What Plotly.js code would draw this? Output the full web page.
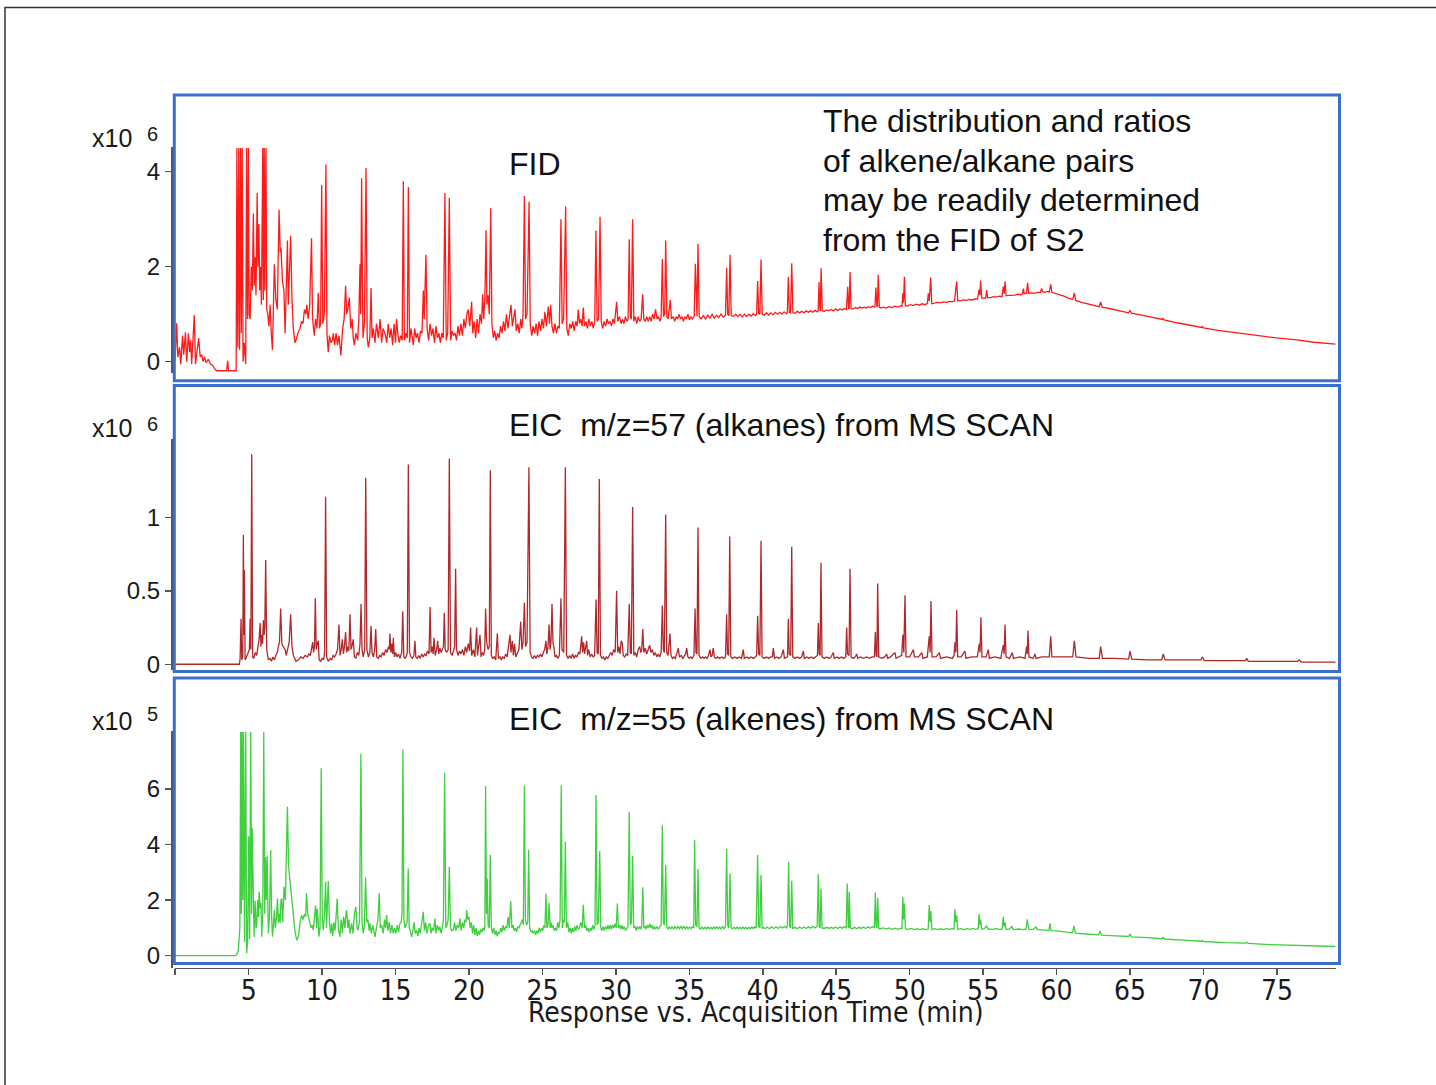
<!DOCTYPE html>
<html>
<head>
<meta charset="utf-8">
<script src="https://cdn.plot.ly/plotly-3.0.1.min.js"></script>
<style>
html,body{margin:0;padding:0;background:#ffffff;}
#chart{width:1436px;height:1085px;}
</style>
</head>
<body>
<div id="chart"></div>
<script>
// ---------- DATA (time in min, response in units of the axis multiplier) ----------
// FID trace, response x10^6
const fidSignal = [
[0.0,0.05],[0.1,0.81],[0.18,0.1],[0.3,0.3],[0.38,-0.05],[0.5,0.55],[0.58,0.15],[0.7,0.62],[0.78,0.0],[0.9,0.6],[0.98,0.2],[1.05,0.45],[1.12,-0.05],[1.2,0.35],[1.3,0.98],[1.38,-0.05],[1.5,0.25],[1.6,0.5],[1.7,0.1],[1.8,0.15],[1.9,0.0],[2.0,0.1],[2.1,-0.02],[2.25,0.05],[2.4,-0.05],[2.55,-0.08],[2.7,-0.15],[2.82,-0.19],[3.5,-0.19],[3.57,0.02],[3.63,-0.19],[4.15,-0.19],
[4.2,4.5],[4.26,0.3],[4.33,4.5],[4.38,0.25],[4.45,4.5],[4.5,0.6],[4.56,4.5],[4.62,0.0],[4.7,0.4],[4.8,-0.05],[4.86,4.5],[4.92,0.9],[4.98,4.5],[5.03,1.0],[5.1,0.9],[5.18,2.0],[5.25,1.5],[5.32,3.12],[5.38,1.6],[5.45,2.2],[5.5,1.4],[5.58,3.55],[5.63,2.0],[5.7,2.9],[5.75,1.5],[5.82,2.0],[5.87,1.2],[5.96,4.5],[6.0,1.3],[6.06,4.5],[6.1,1.5],[6.18,4.5],[6.23,1.1],[6.3,1.0],[6.38,0.75],[6.46,1.2],[6.54,0.6],[6.62,0.25],[6.75,2.05],[6.85,1.3],[6.95,1.1],[7.07,3.2],[7.15,2.3],[7.2,2.4],[7.3,1.7],[7.4,1.5],[7.48,0.6],[7.55,1.8],[7.64,2.55],[7.7,1.2],[7.8,2.0],[7.86,2.65],[7.95,1.3],[8.04,0.7],[8.15,0.4],[8.22,0.45],[8.35,0.6],[8.49,0.7],[8.6,0.85],[8.7,0.8],[8.8,1.1],[8.9,1.0],[8.96,1.2],[9.05,0.9],[9.15,1.15],[9.28,2.6],[9.35,0.9],[9.47,0.55],[9.55,0.9],[9.65,0.7],[9.74,1.45],[9.82,0.7],[9.9,0.8],[9.97,3.72],[10.05,0.8],[10.15,1.0],[10.26,4.15],[10.33,0.6],[10.42,0.2],
[10.5,0.55],[10.6,0.4],[10.7,0.45],[10.76,0.6],[10.85,0.35],[10.95,0.6],[11.05,0.35],[11.15,0.55],[11.28,0.13],[11.4,0.7],[11.5,0.9],[11.6,1.6],[11.68,1.0],[11.75,1.1],[11.85,1.35],[11.95,0.7],[12.05,0.9],[12.12,0.5],[12.2,0.35],[12.3,0.6],[12.42,0.45],[12.5,0.9],[12.58,2.05],[12.63,1.0],[12.69,3.86],[12.78,0.5],[12.88,0.8],[12.99,4.08],[13.07,0.5],[13.15,0.3],[13.25,0.5],[13.33,1.55],[13.4,0.5],[13.49,0.7],[13.6,0.4],[13.7,0.8],[13.83,0.5],[13.95,0.9],[14.05,0.4],[14.15,0.7],[14.28,0.6],[14.4,0.4],[14.5,0.8],[14.6,0.5],[14.7,0.7],[14.8,0.35],[14.9,0.8],[15.0,0.4],[15.07,0.9],[15.15,0.6],[15.25,0.4],[15.35,0.55],[15.45,0.45],[15.53,3.8],[15.6,0.45],[15.7,0.6],[15.8,0.5],[15.87,3.68],[15.95,0.4],[16.05,0.7],[16.15,0.5],[16.21,0.35],[16.3,0.7],[16.4,0.5],[16.5,0.6],[16.6,0.4],[16.7,0.65],[16.8,0.6],[16.89,1.5],[16.95,0.9],[17.07,2.25],[17.15,0.7],[17.25,0.45],[17.35,0.8],[17.45,0.55],[17.55,0.7],[17.65,0.4],[17.75,0.75],[17.85,0.5],[17.95,0.6],[18.05,0.4],[18.15,0.6],[18.25,0.5],[18.36,3.55],[18.45,0.45],[18.55,0.6],[18.66,3.45],[18.75,0.45],[18.85,0.65],[18.95,0.55],[19.05,0.6],[19.15,0.45],[19.25,0.75],[19.35,0.55],[19.45,0.8],[19.55,0.55],[19.65,0.9],[19.75,0.7],[19.85,1.0],[19.95,1.1],[20.05,0.75],
[20.18,1.26],[20.25,0.6],[20.35,0.85],[20.45,0.5],[20.55,0.9],[20.65,0.6],[20.75,1.0],[20.85,0.8],[20.93,1.42],[21.0,0.9],[21.08,1.3],[21.16,2.77],[21.22,1.2],[21.3,1.4],[21.38,1.0],[21.48,3.23],[21.56,0.8],[21.66,0.5],[21.75,0.65],[21.85,0.45],[21.95,0.6],[22.05,0.5],[22.15,0.75],[22.25,0.6],[22.35,0.85],[22.45,0.65],[22.55,1.0],[22.65,0.7],[22.75,0.95],[22.86,1.2],[22.95,0.75],[23.05,0.95],[23.13,1.1],[23.22,0.65],[23.32,0.8],[23.42,0.6],[23.52,0.9],[23.6,0.7],[23.68,1.0],[23.77,3.49],[23.85,0.9],[23.95,1.0],[24.09,3.37],[24.17,0.8],[24.27,0.55],[24.37,0.75],[24.47,0.6],[24.57,0.8],[24.67,0.55],[24.77,0.85],[24.87,0.65],[24.97,0.9],[25.07,0.7],[25.17,1.05],[25.27,0.75],[25.4,1.16],[25.48,0.8],[25.56,1.2],[25.65,0.75],[25.75,0.6],[25.85,0.8],[25.95,0.6],[26.05,0.75],[26.15,0.7],[26.26,3.0],[26.34,0.8],[26.44,0.9],[26.58,3.27],[26.66,0.7],[26.76,0.55],[26.86,0.8],[26.96,0.7],[27.06,0.85],[27.16,0.65],[27.26,0.85],[27.36,0.75],[27.44,1.1],[27.52,0.8],[27.6,0.9],[27.7,0.75],[27.78,1.14],[27.86,0.75],[27.96,0.85],[28.06,0.7],[28.16,0.9],[28.26,0.75],[28.36,0.85],[28.46,0.7],[28.56,0.85],[28.64,2.76],[28.72,0.85],[28.82,0.9],[28.92,3.05],[29.0,0.85],[29.1,0.7],[29.2,0.85],[29.3,0.75],[29.4,0.9],[29.5,0.8],[29.6,0.85],[29.7,0.75],[29.8,0.9],[29.9,0.8],[30.05,1.26],[30.13,0.85],[30.25,0.95],[30.35,0.8],[30.45,0.9],[30.55,0.8],[30.65,0.95],[30.75,0.85],[30.83,0.9],[30.91,2.58],[30.98,0.95],[31.05,0.9],[31.14,3.0],[31.22,0.85],[31.32,0.95],[31.42,0.8],[31.52,0.95],[31.62,0.85],[31.72,0.9],[31.82,1.42],[31.9,0.9],[32.0,0.85],[32.1,0.95],[32.2,0.85],[32.3,0.95],[32.4,0.85],[32.5,1.0],[32.6,0.9],[32.7,1.1],[32.8,0.9],[32.9,0.95],[33.0,0.85],[33.08,0.95],[33.16,2.16],[33.24,0.95],[33.32,1.0],[33.39,2.55],[33.47,0.95],[33.55,0.9],[33.7,1.3],[33.78,0.9],[33.9,0.95],[34.0,0.85],[34.1,0.95],[34.2,0.9],[34.3,1.0],[34.4,0.9],[34.5,0.95],[34.6,0.85],[34.7,0.95],[34.8,0.9],[34.9,1.0],[35.0,0.88],[35.1,0.95],[35.2,0.9],[35.33,0.95],[35.41,2.06],[35.48,1.0],[35.52,0.95],[35.59,2.48],[35.67,0.95],[35.8,0.9],[35.95,0.97],[36.1,0.9],[36.25,0.98],[36.4,0.92],[36.55,1.0],[36.7,0.92],[36.85,0.98],[37.0,0.93],[37.15,1.0],[37.3,0.94],[37.46,0.98],[37.54,1.98],[37.61,1.0],[37.69,0.97],[37.77,2.25],[37.85,0.97],[38.0,0.95],[38.15,1.0],[38.3,0.95],[38.45,1.0],[38.6,0.94],[38.75,1.0],[38.9,0.95],[39.05,1.0],[39.2,0.96],[39.35,1.01],[39.5,0.97],[39.58,1.0],[39.65,1.7],[39.72,1.02],[39.8,1.0],[39.88,2.15],[39.96,1.0],[40.1,0.98],[40.25,1.03],[40.4,0.98],[40.55,1.03],[40.7,0.99],[40.85,1.04],[41.0,1.0],[41.15,1.04],[41.3,1.0],[41.45,1.05],[41.6,1.01],[41.67,1.03],[41.74,1.79],[41.81,1.04],[41.89,1.03],[41.97,2.07],[42.05,1.03],[42.2,1.02],[42.35,1.06],[42.5,1.03],[42.65,1.06],[42.8,1.03],[42.95,1.07],[43.1,1.04],[43.25,1.07],[43.4,1.04],[43.55,1.08],[43.7,1.05],[43.77,1.07],[43.83,1.68],[43.89,1.08],[43.92,1.07],[43.97,1.97],[44.05,1.07],[44.2,1.06],[44.35,1.09],[44.5,1.07],[44.65,1.1],[44.8,1.07],[44.95,1.11],[45.1,1.08],[45.25,1.11],[45.4,1.09],[45.55,1.12],[45.7,1.1],[45.78,1.58],[45.84,1.12],[45.88,1.11],[45.94,1.89],[46.01,1.12],[46.15,1.11],[46.3,1.14],[46.45,1.12],[46.6,1.15],[46.75,1.13],[46.9,1.15],[47.05,1.13],[47.2,1.16],[47.35,1.14],[47.5,1.17],[47.63,1.15],[47.7,1.56],[47.76,1.17],[47.8,1.16],[47.86,1.83],[47.93,1.15],
[48.05,1.13],[48.2,1.15],[48.4,1.13],[48.6,1.16],[48.8,1.14],[49.0,1.17],[49.2,1.15],[49.4,1.18],[49.48,1.17],[49.53,1.44],[49.58,1.25],[49.64,1.79],[49.7,1.18],[49.85,1.17],[50.05,1.2],[50.25,1.18],[50.45,1.21],[50.65,1.19],[50.85,1.22],[51.05,1.2],[51.2,1.23],[51.27,1.44],[51.33,1.28],[51.43,1.77],[51.5,1.22],[51.7,1.23],[51.9,1.25],[52.1,1.24],[52.3,1.26],[52.5,1.25],[52.7,1.27],[52.9,1.26],[53.05,1.28],[53.12,1.48],[53.2,1.69],[53.27,1.28],[53.45,1.28],[53.65,1.3],[53.85,1.29],[54.05,1.31],[54.25,1.3],[54.45,1.32],[54.62,1.32],[54.72,1.52],[54.78,1.4],[54.83,1.71],[54.9,1.34],[55.05,1.34],[55.18,1.34],[55.24,1.51],[55.3,1.35],[55.5,1.35],[55.7,1.37],[55.9,1.36],[56.1,1.38],[56.28,1.37],[56.37,1.58],[56.43,1.43],[56.49,1.69],[56.56,1.39],[56.75,1.39],[56.95,1.4],[57.15,1.4],[57.35,1.42],[57.55,1.41],[57.68,1.43],[57.74,1.54],[57.8,1.43],[57.95,1.44],[58.03,1.66],[58.1,1.44],[58.3,1.45],[58.5,1.44],[58.7,1.46],[58.9,1.46],[58.98,1.54],[59.06,1.47],[59.2,1.46],[59.35,1.48],[59.5,1.47],[59.6,1.63],[59.68,1.46],[59.9,1.44],[60.2,1.41],[60.5,1.38],[60.8,1.34],[61.1,1.31],[61.21,1.45],[61.3,1.29],[61.7,1.25],[62.1,1.22],[62.5,1.19],[62.9,1.16],[63.0,1.26],[63.1,1.15],[63.6,1.12],[64.2,1.08],[64.9,1.03],[65.0,1.08],[65.1,1.02],[65.8,0.98],[66.6,0.93],[67.2,0.89],[67.26,0.92],[67.32,0.88],[68.2,0.82],[69.2,0.76],[69.87,0.72],[69.92,0.74],[70.0,0.71],[71.0,0.66],[72.0,0.62],[72.94,0.58],[74.0,0.53],[75.0,0.5],[76.34,0.46],[77.5,0.41],[79.0,0.37]
];

// EIC m/z=57 trace, response x10^6
const eic57Signal = [
[0.0,0.0],[4.37,0.0],[4.42,0.04],[4.48,0.31],[4.53,0.03],[4.6,0.05],[4.64,0.88],[4.68,0.2],[4.71,0.64],[4.76,0.03],[4.85,0.05],[4.95,0.08],[5.05,0.1],[5.1,0.31],[5.15,0.1],[5.21,1.43],[5.27,0.05],[5.35,0.04],[5.45,0.08],[5.55,0.06],[5.65,0.12],[5.72,0.18],[5.78,0.28],[5.84,0.12],[5.9,0.2],[5.95,0.14],[6.0,0.3],[6.05,0.2],[6.1,0.25],[6.16,0.71],[6.23,0.1],[6.34,0.03],[6.45,0.04],[6.55,0.02],[6.65,0.05],[6.75,0.03],[6.85,0.06],[6.95,0.08],[7.02,0.12],[7.1,0.15],[7.18,0.38],[7.26,0.14],[7.35,0.12],[7.48,0.1],[7.56,0.06],[7.66,0.12],[7.76,0.15],[7.86,0.34],[7.95,0.12],[8.05,0.06],[8.22,0.02],[8.4,0.03],[8.55,0.05],[8.7,0.04],[8.85,0.06],[9.0,0.05],[9.1,0.07],[9.2,0.06],[9.28,0.1],[9.36,0.15],[9.42,0.08],[9.48,0.12],[9.54,0.45],[9.6,0.1],[9.67,0.14],[9.74,0.16],[9.8,0.03],[9.9,0.02],[10.0,0.04],[10.1,0.03],[10.17,0.08],[10.24,1.14],[10.31,0.05],[10.42,0.02],[10.55,0.04],[10.65,0.03],[10.75,0.06],[10.85,0.05],[10.95,0.07],[11.05,0.1],[11.15,0.27],[11.22,0.06],[11.3,0.1],[11.38,0.17],[11.45,0.07],[11.52,0.12],[11.6,0.22],[11.67,0.08],[11.75,0.12],[11.82,0.09],[11.9,0.34],[11.97,0.1],[12.05,0.13],[12.12,0.17],[12.2,0.05],[12.3,0.04],[12.4,0.08],[12.5,0.06],[12.58,0.14],[12.65,0.41],[12.72,0.1],[12.8,0.05],[12.9,0.1],[12.97,1.27],[13.05,0.1],[13.15,0.05],[13.25,0.08],[13.33,0.26],[13.4,0.08],[13.5,0.05],[13.58,0.1],[13.65,0.24],[13.72,0.05],[13.82,0.04],[13.92,0.06],[14.02,0.05],[14.12,0.08],[14.22,0.06],[14.32,0.1],[14.42,0.08],[14.52,0.12],[14.57,0.1],[14.62,0.21],[14.68,0.08],[14.75,0.14],[14.8,0.07],[14.85,0.18],[14.92,0.05],[15.0,0.08],[15.1,0.05],[15.2,0.07],[15.3,0.04],[15.42,0.08],[15.49,0.36],[15.56,0.05],[15.65,0.04],[15.75,0.06],[15.8,0.08],[15.87,1.36],[15.95,0.08],[16.05,0.05],[16.15,0.04],[16.25,0.06],[16.32,0.16],[16.38,0.05],[16.48,0.04],[16.58,0.06],[16.68,0.04],[16.78,0.07],[16.88,0.05],[16.98,0.07],[17.08,0.06],[17.18,0.09],[17.28,0.07],[17.35,0.39],[17.42,0.08],[17.5,0.12],[17.56,0.07],[17.62,0.18],[17.7,0.06],[17.8,0.1],[17.87,0.16],[17.94,0.07],[18.02,0.11],[18.1,0.08],[18.2,0.1],[18.26,0.12],[18.32,0.35],[18.38,0.1],[18.48,0.08],[18.58,0.1],[18.66,1.4],[18.74,0.08],[18.85,0.06],[18.95,0.1],[19.02,0.12],[19.09,0.65],[19.15,0.1],[19.25,0.06],[19.35,0.09],[19.45,0.07],[19.55,0.1],[19.65,0.06],[19.75,0.12],[19.85,0.08],[19.95,0.14],[20.04,0.09],[20.11,0.25],[20.18,0.06],
[20.3,0.1],[20.4,0.05],[20.52,0.25],[20.58,0.06],[20.65,0.12],[20.75,0.2],[20.82,0.05],[20.9,0.08],[21.0,0.06],[21.07,0.1],[21.13,0.38],[21.2,0.15],[21.3,0.1],[21.38,0.12],[21.45,1.32],[21.52,0.06],[21.62,0.04],[21.72,0.05],[21.82,0.03],[21.93,0.21],[22.0,0.04],[22.1,0.05],[22.2,0.03],[22.3,0.05],[22.4,0.04],[22.5,0.07],[22.6,0.05],[22.7,0.12],[22.79,0.2],[22.86,0.08],[22.95,0.16],[23.02,0.06],[23.1,0.14],[23.18,0.05],[23.28,0.08],[23.4,0.1],[23.52,0.29],[23.6,0.1],[23.68,0.15],[23.77,0.42],[23.85,0.12],[23.95,0.15],[24.08,1.34],[24.16,0.08],[24.26,0.05],[24.36,0.04],[24.46,0.06],[24.56,0.04],[24.66,0.06],[24.76,0.05],[24.86,0.07],[24.96,0.05],[25.06,0.08],[25.15,0.1],[25.24,0.16],[25.3,0.07],[25.38,0.12],[25.45,0.27],[25.52,0.1],[25.58,0.15],[25.65,0.41],[25.72,0.14],[25.78,0.12],[25.85,0.05],[25.95,0.06],[26.05,0.04],[26.15,0.06],[26.26,0.45],[26.33,0.1],[26.45,0.08],[26.56,1.34],[26.64,0.06],[26.75,0.04],[26.85,0.06],[26.95,0.04],[27.05,0.07],[27.15,0.04],[27.25,0.06],[27.35,0.05],[27.45,0.08],[27.55,0.07],[27.67,0.19],[27.73,0.08],[27.8,0.15],[27.87,0.07],[27.95,0.12],[28.01,0.16],[28.07,0.06],[28.15,0.1],[28.25,0.05],[28.35,0.07],[28.45,0.05],[28.55,0.06],[28.65,0.44],[28.72,0.08],[28.8,0.07],[28.87,1.26],[28.95,0.06],[29.05,0.04],[29.15,0.05],[29.25,0.03],[29.35,0.05],[29.45,0.04],[29.55,0.06],[29.65,0.08],[29.75,0.06],[29.85,0.1],[29.95,0.08],[30.05,0.5],[30.12,0.08],[30.2,0.12],[30.28,0.07],[30.36,0.16],[30.44,0.14],[30.5,0.06],[30.6,0.05],[30.7,0.07],[30.8,0.06],[30.91,0.41],[30.98,0.08],[31.05,0.07],[31.14,1.07],[31.22,0.06],[31.32,0.08],[31.42,0.05],[31.52,0.1],[31.62,0.12],[31.7,0.08],[31.76,0.1],[31.83,0.24],[31.9,0.08],[32.0,0.11],[32.1,0.07],[32.2,0.1],[32.3,0.13],[32.38,0.08],[32.48,0.1],[32.58,0.06],[32.68,0.08],[32.78,0.05],[32.88,0.07],[32.98,0.05],[33.08,0.08],[33.16,0.4],[33.23,0.1],[33.3,0.08],[33.39,1.02],[33.46,0.08],[33.55,0.06],[33.68,0.21],[33.75,0.06],[33.85,0.04],[33.95,0.05],[34.05,0.04],[34.15,0.07],[34.25,0.11],[34.32,0.05],[34.45,0.06],[34.55,0.04],[34.65,0.06],[34.75,0.07],[34.82,0.11],[34.9,0.05],[35.0,0.04],[35.1,0.05],[35.2,0.04],[35.31,0.06],[35.39,0.38],[35.45,0.08],[35.52,0.07],[35.59,0.93],[35.66,0.06],[35.78,0.04],[35.9,0.05],[36.0,0.04],[36.1,0.05],[36.2,0.04],[36.3,0.06],[36.4,0.1],[36.47,0.05],[36.55,0.06],[36.63,0.11],[36.7,0.05],[36.8,0.04],[36.92,0.05],[37.05,0.04],[37.2,0.05],[37.35,0.04],[37.46,0.05],[37.54,0.34],[37.6,0.07],[37.68,0.06],[37.75,0.87],[37.82,0.05],[37.95,0.04],[38.1,0.05],[38.25,0.04],[38.4,0.05],[38.55,0.04],[38.67,0.1],[38.74,0.04],[38.9,0.05],[39.05,0.04],[39.2,0.05],[39.35,0.04],[39.5,0.05],[39.58,0.06],[39.65,0.33],[39.72,0.07],[39.8,0.06],[39.88,0.84],[39.95,0.05],[40.1,0.04],[40.25,0.05],[40.4,0.04],[40.55,0.05],[40.65,0.05],[40.72,0.11],[40.8,0.04],[40.95,0.05],[41.1,0.04],[41.25,0.05],[41.4,0.1],[41.47,0.04],[41.6,0.05],[41.68,0.05],[41.74,0.31],[41.8,0.07],[41.9,0.06],[41.97,0.8],[42.04,0.05],[42.2,0.04],[42.35,0.05],[42.5,0.04],[42.65,0.05],[42.76,0.09],[42.83,0.04],[43.0,0.05],[43.15,0.04],[43.3,0.05],[43.45,0.04],[43.6,0.05],[43.72,0.06],[43.78,0.28],[43.84,0.07],[43.9,0.06],[43.96,0.69],[44.03,0.05],[44.2,0.04],[44.35,0.05],[44.5,0.04],[44.65,0.05],[44.8,0.08],[44.87,0.04],[45.05,0.05],[45.2,0.04],[45.35,0.05],[45.5,0.04],[45.65,0.05],[45.71,0.25],[45.77,0.07],[45.87,0.06],[45.94,0.65],[46.01,0.05],[46.15,0.04],[46.3,0.05],[46.39,0.07],[46.46,0.04],[46.65,0.05],[46.85,0.04],[47.05,0.05],[47.25,0.04],[47.45,0.05],[47.6,0.05],[47.66,0.22],[47.72,0.06],[47.77,0.05],[47.82,0.55],[47.89,0.05],[48.1,0.04],[48.3,0.05],[48.43,0.07],[48.5,0.04],[48.7,0.05],
[49.0,0.08],[49.07,0.04],[49.3,0.05],[49.46,0.06],[49.53,0.2],[49.6,0.08],[49.68,0.47],[49.75,0.05],[50.0,0.05],[50.25,0.1],[50.32,0.05],[50.6,0.05],[50.82,0.08],[50.9,0.04],[51.2,0.05],[51.33,0.19],[51.39,0.08],[51.45,0.43],[51.52,0.05],[51.8,0.05],[52.02,0.08],[52.1,0.04],[52.5,0.05],[52.9,0.04],[53.02,0.06],[53.08,0.15],[53.14,0.08],[53.2,0.37],[53.27,0.05],[53.5,0.05],[53.76,0.09],[53.83,0.04],[54.2,0.05],[54.6,0.05],[54.74,0.14],[54.79,0.08],[54.85,0.32],[54.92,0.05],[55.2,0.05],[55.35,0.1],[55.42,0.04],[55.8,0.05],[56.2,0.04],[56.37,0.13],[56.43,0.07],[56.49,0.27],[56.56,0.05],[56.8,0.04],[56.99,0.08],[57.06,0.04],[57.5,0.05],[57.85,0.04],[57.96,0.12],[58.0,0.07],[58.05,0.23],[58.12,0.05],[58.4,0.04],[58.53,0.07],[58.6,0.04],[59.0,0.05],[59.5,0.05],[59.6,0.19],[59.68,0.05],[60.3,0.05],[61.1,0.05],[61.21,0.16],[61.32,0.05],[62.2,0.04],[62.9,0.04],[63.0,0.12],[63.12,0.04],[64.0,0.04],[64.9,0.035],[65.0,0.09],[65.12,0.035],[66.2,0.03],[67.15,0.03],[67.26,0.07],[67.38,0.03],[68.8,0.03],[69.82,0.03],[69.92,0.05],[70.05,0.025],[71.5,0.025],[72.85,0.025],[72.94,0.04],[73.05,0.02],[75.0,0.02],[76.42,0.02],[76.52,0.03],[76.65,0.015],[79.0,0.015]
];

// EIC m/z=55 trace, response x10^5
const eic55Signal = [
[0.0,0.0],[4.1,0.0],[4.2,0.05],[4.3,0.2],[4.4,1.0],[4.46,8.05],[4.5,1.5],[4.55,8.05],[4.6,2.0],[4.65,8.05],[4.72,0.5],[4.8,8.05],[4.86,0.09],[4.93,0.5],[5.0,4.3],[5.07,0.6],[5.14,8.05],[5.2,1.5],[5.24,4.6],[5.3,2.5],[5.37,0.67],[5.44,1.98],[5.5,1.0],[5.55,1.1],[5.61,2.0],[5.66,1.4],[5.72,2.3],[5.78,1.7],[5.84,1.9],[5.89,0.68],[5.96,1.5],[6.03,8.05],[6.09,1.5],[6.14,3.55],[6.2,2.0],[6.26,3.6],[6.34,0.8],[6.42,1.4],[6.5,3.8],[6.56,1.5],[6.62,0.68],[6.7,1.2],[6.75,1.64],[6.82,1.0],[6.9,1.4],[6.96,2.06],[7.02,1.2],[7.08,1.5],[7.14,1.17],[7.2,2.0],[7.25,2.06],[7.32,1.2],[7.41,2.48],[7.5,2.0],[7.57,3.5],[7.64,5.36],[7.72,3.2],[7.82,2.6],[7.92,2.3],[8.04,1.5],[8.15,0.9],[8.27,0.56],[8.4,0.7],[8.5,1.2],[8.61,1.46],[8.7,1.3],[8.8,1.5],[8.88,1.4],[8.94,2.25],[9.02,1.5],[9.1,1.3],[9.17,1.16],[9.25,1.0],[9.32,1.1],[9.4,0.92],[9.5,1.5],[9.56,1.8],[9.62,1.0],[9.67,1.69],[9.74,1.2],[9.78,0.68],[9.86,1.0],[9.94,6.74],[10.01,1.4],[10.08,0.92],[10.16,1.5],[10.24,2.66],[10.3,1.0],[10.36,2.1],[10.42,2.69],[10.5,1.2],[10.58,0.8],[10.65,1.16],[10.72,0.7],[10.8,1.2],[10.88,0.9],[10.95,1.4],[11.03,2.06],[11.1,1.0],[11.21,0.68],[11.3,1.3],[11.38,0.8],[11.46,1.4],[11.55,1.0],[11.62,1.5],[11.67,1.64],[11.75,1.0],[11.82,1.3],[11.9,0.8],[12.01,1.16],[12.1,0.8],[12.2,1.5],[12.3,1.76],[12.38,1.0],[12.46,0.92],[12.55,1.3],[12.64,7.26],[12.72,1.2],[12.8,0.8],[12.88,1.1],[12.96,2.81],[13.04,1.2],[13.12,1.3],[13.2,0.9],[13.26,1.16],[13.35,0.8],[13.45,1.1],[13.52,0.9],[13.6,0.68],[13.7,1.0],[13.8,1.3],[13.89,2.25],[13.96,1.0],[14.05,1.1],[14.16,0.8],[14.25,1.3],[14.32,1.0],[14.39,1.46],[14.48,0.9],[14.57,1.2],[14.66,0.8],[14.75,1.1],[14.84,0.8],[14.93,1.0],[15.02,0.8],[15.12,1.1],[15.2,0.85],[15.3,1.16],[15.38,1.2],[15.44,1.5],[15.5,7.42],[15.57,1.3],[15.65,1.0],[15.72,1.1],[15.79,1.2],[15.86,3.14],[15.93,1.0],[16.0,0.9],[16.09,0.68],[16.18,0.9],[16.26,1.2],[16.34,0.8],[16.43,0.92],[16.52,0.7],[16.6,1.0],[16.68,0.8],[16.76,1.1],[16.82,1.3],[16.89,1.58],[16.96,0.9],[17.05,1.2],[17.14,0.8],[17.24,1.1],[17.34,1.16],[17.42,0.8],[17.5,1.0],[17.6,0.9],[17.68,1.34],[17.76,0.8],[17.85,1.1],[17.94,0.9],[18.02,1.04],[18.1,0.8],[18.18,1.0],[18.26,1.3],[18.34,6.58],[18.42,1.0],[18.5,1.1],[18.58,1.3],[18.66,3.2],[18.74,1.0],[18.82,0.9],[18.93,0.92],[19.02,1.2],[19.1,0.9],[19.2,1.1],[19.3,1.0],[19.38,1.34],[19.46,0.9],[19.55,1.2],[19.64,1.0],[19.72,1.3],[19.8,1.2],[19.84,1.64],[19.92,1.3],[20.0,1.4],
[20.08,1.0],[20.16,1.2],[20.24,0.8],[20.32,1.1],[20.4,0.75],[20.48,1.0],[20.56,0.7],[20.64,0.9],[20.72,0.75],[20.8,0.95],[20.88,0.85],[20.96,1.0],[21.04,0.9],[21.08,1.1],[21.13,6.1],[21.19,1.5],[21.24,2.78],[21.3,1.1],[21.38,1.0],[21.45,3.62],[21.52,1.0],[21.6,0.8],[21.68,1.0],[21.76,0.75],[21.84,0.9],[21.92,0.7],[22.0,0.85],[22.08,0.8],[22.16,1.0],[22.24,0.85],[22.32,1.1],[22.4,0.9],[22.5,1.05],[22.58,1.0],[22.66,1.4],[22.74,1.0],[22.84,1.97],[22.92,1.0],[23.0,1.1],[23.08,0.9],[23.16,1.0],[23.24,0.85],[23.32,1.05],[23.4,1.0],[23.48,1.15],[23.56,1.2],[23.64,1.3],[23.7,1.1],[23.77,6.12],[23.84,1.3],[23.92,1.1],[24.0,1.2],[24.06,3.81],[24.13,1.0],[24.22,0.85],[24.3,0.9],[24.38,0.8],[24.46,0.9],[24.54,0.75],[24.62,0.9],[24.7,0.8],[24.78,1.0],[24.86,0.85],[24.94,1.0],[25.02,0.9],[25.1,1.1],[25.17,1.0],[25.24,2.24],[25.3,1.0],[25.38,1.1],[25.45,1.9],[25.52,1.0],[25.58,1.2],[25.64,1.0],[25.72,1.1],[25.8,0.9],[25.88,1.0],[25.96,0.9],[26.04,1.2],[26.12,1.0],[26.2,1.3],[26.28,6.12],[26.35,1.0],[26.42,1.3],[26.49,1.2],[26.56,4.1],[26.63,1.0],[26.72,1.2],[26.8,0.85],[26.88,1.0],[26.96,0.8],[27.04,1.0],[27.12,0.85],[27.2,1.05],[27.28,0.9],[27.36,1.1],[27.44,0.95],[27.52,1.0],[27.6,1.2],[27.7,1.0],[27.78,1.83],[27.86,1.0],[27.94,1.1],[28.02,0.9],[28.1,1.0],[28.18,0.85],[28.26,1.0],[28.34,0.9],[28.42,1.1],[28.5,0.95],[28.58,1.1],[28.65,5.78],[28.72,1.1],[28.8,1.2],[28.9,3.77],[28.97,1.0],[29.05,0.9],[29.13,1.05],[29.21,0.9],[29.3,1.05],[29.38,0.95],[29.46,1.1],[29.54,0.95],[29.62,1.1],[29.7,0.95],[29.78,1.1],[29.86,1.0],[29.94,1.15],[30.02,1.0],[30.1,1.88],[30.17,1.0],[30.25,1.1],[30.33,0.95],[30.41,1.1],[30.49,0.95],[30.57,1.05],[30.65,0.9],[30.73,1.0],[30.82,1.05],[30.91,5.18],[30.98,1.1],[31.06,1.2],[31.14,3.59],[31.21,1.0],[31.3,1.05],[31.38,0.9],[31.46,1.05],[31.54,0.95],[31.62,1.05],[31.7,0.95],[31.76,1.1],[31.83,2.46],[31.9,1.0],[31.98,1.05],[32.06,0.95],[32.14,1.1],[32.22,1.0],[32.3,1.15],[32.38,1.0],[32.46,1.1],[32.54,0.95],[32.62,1.05],[32.7,0.95],[32.8,1.05],[32.9,0.95],[33.0,1.05],[33.08,1.1],[33.16,4.69],[33.23,1.2],[33.31,1.1],[33.39,3.26],[33.46,1.05],[33.55,0.95],[33.63,1.05],[33.72,0.95],[33.82,1.05],[33.92,0.95],[34.02,1.05],[34.12,0.97],[34.22,1.05],[34.32,0.97],[34.42,1.05],[34.52,0.97],[34.62,1.05],[34.72,0.97],[34.82,1.04],[34.92,0.97],[35.02,1.03],[35.12,0.97],[35.22,1.05],[35.3,1.0],[35.36,4.16],[35.43,1.1],[35.52,1.05],[35.59,3.12],[35.66,1.0],[35.76,0.96],[35.86,1.03],[35.96,0.96],[36.06,1.02],[36.16,0.96],[36.26,1.03],[36.36,0.97],[36.46,1.02],[36.56,0.96],[36.66,1.03],[36.76,0.97],[36.86,1.04],[36.96,0.97],[37.06,1.03],[37.16,0.96],[37.26,1.05],[37.36,0.97],[37.46,1.05],[37.54,3.84],[37.61,1.1],[37.69,1.0],[37.77,2.96],[37.84,1.0],[37.95,0.97],[38.05,1.02],[38.15,0.97],[38.25,1.03],[38.35,0.97],[38.45,1.02],[38.55,0.97],[38.65,1.03],[38.75,0.97],[38.85,1.02],[38.95,0.96],[39.05,1.02],[39.15,0.97],[39.25,1.03],[39.35,0.98],[39.45,1.04],[39.55,0.99],[39.65,3.62],[39.72,1.05],[39.8,1.0],[39.88,2.9],[39.95,0.98],[40.05,1.02],[40.15,0.97],[40.3,1.03],[40.45,0.97],[40.6,1.04],[40.75,0.98],[40.9,1.04],[41.05,0.98],[41.2,1.05],[41.35,1.0],[41.5,1.05],[41.62,1.0],[41.68,1.1],[41.76,3.38],[41.83,1.05],[41.9,1.0],[41.97,2.7],[42.04,0.98],[42.2,1.02],[42.35,0.97],[42.5,1.03],[42.65,0.98],[42.8,1.03],[42.95,0.98],[43.1,1.04],[43.25,0.99],[43.4,1.06],[43.55,1.0],[43.7,1.05],[43.78,2.93],[43.84,1.05],[43.9,1.0],[43.96,2.42],[44.03,1.0],[44.2,0.98],[44.35,1.02],[44.5,0.98],[44.65,1.02],[44.8,0.98],[44.95,1.03],[45.1,0.98],[45.25,1.03],[45.4,0.99],[45.55,1.04],[45.68,1.0],[45.75,2.6],[45.82,1.05],[45.86,1.0],[45.89,2.3],[45.96,1.0],[46.1,0.97],[46.25,1.02],[46.4,0.97],[46.55,1.02],[46.7,0.98],[46.85,1.03],[47.0,0.98],[47.15,1.04],[47.3,0.99],[47.45,1.05],[47.6,1.0],[47.66,2.27],[47.72,1.05],[47.77,1.0],[47.82,2.08],[47.89,0.98],[48.0,0.97],
[48.2,1.0],[48.4,0.96],[48.6,1.0],[48.8,0.95],[49.0,0.99],[49.2,0.95],[49.4,0.99],[49.47,0.97],[49.53,2.12],[49.58,1.3],[49.64,1.88],[49.71,0.96],[49.9,0.95],[50.1,0.98],[50.3,0.94],[50.5,0.97],[50.7,0.94],[50.9,0.97],[51.1,0.94],[51.26,0.96],[51.33,1.82],[51.39,1.2],[51.44,1.6],[51.51,0.94],[51.7,0.97],[51.9,0.94],[52.1,0.97],[52.3,0.94],[52.5,0.97],[52.7,0.95],[52.9,0.98],[53.02,0.96],[53.08,1.68],[53.14,1.2],[53.2,1.45],[53.27,0.95],[53.5,0.97],[53.7,0.94],[53.9,0.97],[54.1,0.95],[54.3,0.98],[54.5,0.95],[54.66,0.97],[54.72,1.5],[54.78,1.1],[54.83,1.3],[54.9,0.95],[55.1,0.97],[55.24,1.08],[55.32,0.96],[55.6,0.95],[55.9,0.97],[56.15,0.94],[56.3,0.97],[56.37,1.4],[56.42,1.05],[56.49,1.2],[56.56,0.94],[56.8,0.96],[56.95,1.05],[57.05,0.94],[57.4,0.96],[57.7,0.94],[57.93,0.96],[58.0,1.31],[58.05,1.1],[58.12,0.94],[58.4,0.95],[58.6,1.03],[58.7,0.94],[59.0,0.93],[59.3,0.92],[59.48,0.91],[59.55,1.16],[59.63,0.9],[60.0,0.89],[60.5,0.86],[61.08,0.82],[61.18,1.07],[61.28,0.81],[62.0,0.78],[62.86,0.75],[62.96,0.89],[63.06,0.74],[64.0,0.71],[64.9,0.69],[65.0,0.77],[65.1,0.68],[66.2,0.65],[67.16,0.61],[67.26,0.66],[67.36,0.6],[68.6,0.56],[69.82,0.52],[69.9,0.55],[70.0,0.51],[71.5,0.47],[72.85,0.45],[72.94,0.48],[73.05,0.44],[74.5,0.4],[76.0,0.37],[77.5,0.35],[79.0,0.33]
];

const traceColors = ['#ff1a1a', '#b0282c', '#3fcf3f'];
const panelLabels = ['FID', 'EIC\u00a0\u00a0m/z=57 (alkanes) from MS SCAN', 'EIC\u00a0\u00a0m/z=55 (alkenes) from MS SCAN'];
const noteLines = ['The distribution and ratios', 'of alkene/alkane pairs', 'may be readily determined', 'from the FID of S2'];
const multiplierExponents = ['6', '6', '5'];
const xTickVals = [0, 5, 10, 15, 20, 25, 30, 35, 40, 45, 50, 55, 60, 65, 70, 75];
const xTickText = ['', '5', '10', '15', '20', '25', '30', '35', '40', '45', '50', '55', '60', '65', '70', '75'];
const yTickVals = [[0, 2, 4], [0, 0.5, 1], [0, 2, 4, 6]];
const yTickText = [['0', '2', '4'], ['0', '0.5', '1'], ['0', '2', '4', '6']];
const xTitle = 'Response vs. Acquisition Time (min)';

// ---------- LAYOUT (pixel geometry of the page) ----------
const W = 1436, H = 1085;
const fx = p => p / W;          // pixel x -> paper
const fy = p => 1 - p / H;      // pixel y -> paper

const sans = 'Liberation Sans, Arial, sans-serif';
const narrow = 'DejaVu Sans Condensed, Liberation Sans Narrow, Arial Narrow, sans-serif';

const panelTop = [147.3, 439.3, 731];
const panelBottom = [373.3, 670, 967.7];
const yRanges = [[-0.244, 4.514], [-0.039, 1.531], [-0.432, 8.083]];
const boxTop = [95, 385.5, 678];
const boxBottom = [380.7, 671.5, 963.5];
const multY = [138, 428.3, 721];
const expY = [133.5, 423.5, 714];
const labelY = [164, 424.5, 719];
const noteY = [121, 160.5, 200, 239.5];

const series = [fidSignal, eic57Signal, eic55Signal];
const data = series.map((s, i) => ({
  type: 'scatter',
  mode: 'lines',
  x: s.map(p => p[0]),
  y: s.map(p => p[1]),
  xaxis: 'x',
  yaxis: i === 0 ? 'y' : 'y' + (i + 1),
  line: {color: traceColors[i], width: 1.3},
  hoverinfo: 'skip',
  showlegend: false
}));

const layout = {
  width: W, height: H,
  margin: {l: 0, r: 0, t: 0, b: 0},
  autosize: false,
  paper_bgcolor: '#ffffff',
  plot_bgcolor: 'rgba(0,0,0,0)',
  showlegend: false,
  font: {family: sans, color: '#1a1a1a'},
  xaxis: {
    domain: [fx(175.2), fx(1335.7)],
    range: [0, 79.0],
    anchor: 'y3',
    showline: true, linecolor: '#555555', linewidth: 1.5,
    ticks: 'outside', ticklen: 6, tickwidth: 1.5, tickcolor: '#555555',
    tickmode: 'array', tickvals: xTickVals, ticktext: xTickText,
    tickfont: {family: narrow, size: 28, color: '#1a1a1a'},
    ticklabelstandoff: -9,
    showgrid: false, zeroline: false
  },
  annotations: [],
  shapes: []
};

for (let i = 0; i < 3; i++) {
  const key = i === 0 ? 'yaxis' : 'yaxis' + (i + 1);
  layout[key] = {
    domain: [fy(panelBottom[i]), fy(panelTop[i])],
    range: yRanges[i],
    anchor: 'free',
    position: fx(171),
    showline: true, linecolor: '#555555', linewidth: 1.5,
    ticks: 'outside', ticklen: 6, tickwidth: 1.5, tickcolor: '#555555',
    tickmode: 'array', tickvals: yTickVals[i], ticktext: yTickText[i],
    tickfont: {family: sans, size: 24, color: '#1a1a1a'},
    showgrid: false, zeroline: false
  };
  layout.shapes.push({
    type: 'rect', xref: 'paper', yref: 'paper',
    x0: fx(174.3), x1: fx(1339.5), y0: fy(boxBottom[i]), y1: fy(boxTop[i]),
    line: {color: '#3a6fcf', width: 3}, fillcolor: 'rgba(0,0,0,0)'
  });
  layout.annotations.push({
    xref: 'paper', yref: 'paper', x: fx(134), y: fy(multY[i]),
    xanchor: 'right', yanchor: 'middle', showarrow: false,
    text: 'x10', font: {family: sans, size: 25, color: '#1a1a1a'}
  });
  layout.annotations.push({
    xref: 'paper', yref: 'paper', x: fx(145), y: fy(expY[i]),
    xanchor: 'left', yanchor: 'middle', showarrow: false,
    text: multiplierExponents[i], font: {family: sans, size: 20, color: '#1a1a1a'}
  });
  layout.annotations.push({
    xref: 'paper', yref: 'paper', x: fx(506.5), y: fy(labelY[i]),
    xanchor: 'left', yanchor: 'middle', showarrow: false,
    text: panelLabels[i], font: {family: sans, size: 32, color: '#111111'}
  });
}

// explanatory note in the FID panel, one line each
noteLines.forEach((line, k) => {
  layout.annotations.push({
    xref: 'paper', yref: 'paper', x: fx(821), y: fy(noteY[k]),
    xanchor: 'left', yanchor: 'middle', align: 'left', showarrow: false,
    text: line, font: {family: sans, size: 32, color: '#111111'}
  });
});

// x-axis title (sits partly over the tick labels, as in the original)
layout.annotations.push({
  xref: 'paper', yref: 'paper', x: fx(755.5), y: fy(1012),
  xanchor: 'center', yanchor: 'middle', showarrow: false,
  text: xTitle, font: {family: narrow, size: 28, color: '#1a1a1a'}
});

// outer thin frame (top and left edges visible)
layout.shapes.push({
  type: 'rect', xref: 'paper', yref: 'paper',
  x0: fx(5), x1: fx(1445), y0: fy(1095), y1: fy(7.5),
  line: {color: '#333333', width: 1.5}, fillcolor: 'rgba(0,0,0,0)'
});

Plotly.newPlot('chart', data, layout, {staticPlot: true, displayModeBar: false});
</script>
</body>
</html>
